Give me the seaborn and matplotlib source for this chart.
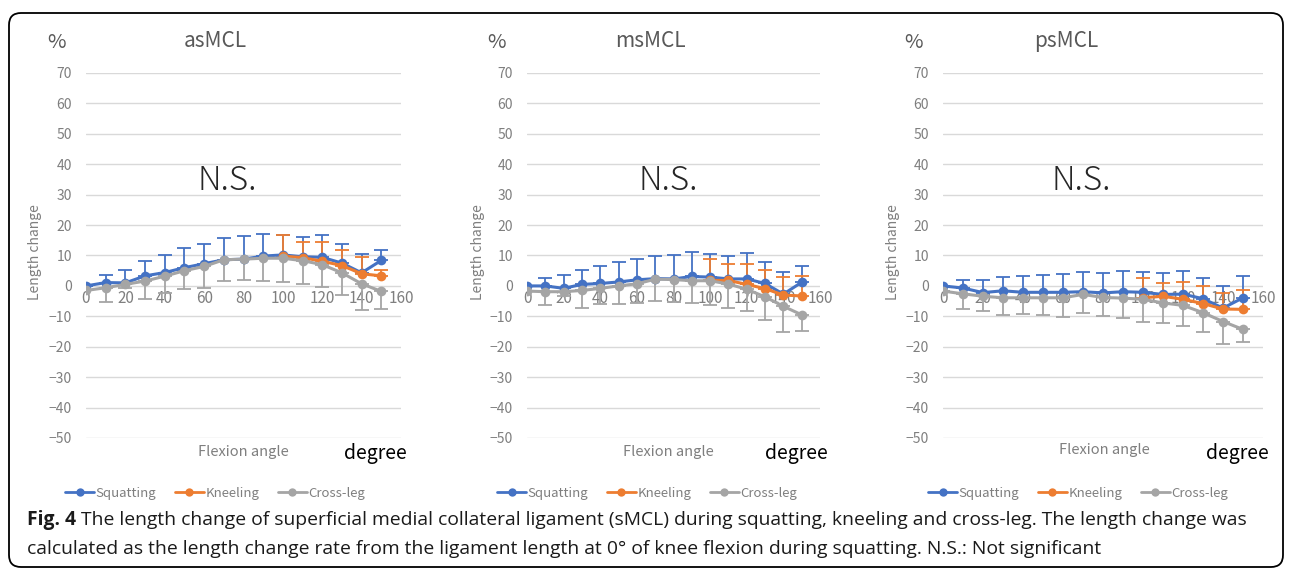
import numpy as np
import pandas as pd
import matplotlib
matplotlib.use("Agg")
import matplotlib.pyplot as plt
import seaborn as sns
from matplotlib.lines import Line2D
from matplotlib.patches import FancyBboxPatch

nan = np.nan
angles = [0, 10, 20, 30, 40, 50, 60, 70, 80, 90, 100, 110, 120, 130, 140, 150]
series = ["Squatting", "Kneeling", "Cross-leg"]
panels = ["asMCL", "msMCL", "psMCL"]
yticks = [-50, -40, -30, -20, -10, 0, 10, 20, 30, 40, 50, 60, 70]
xticks = [0, 20, 40, 60, 80, 100, 120, 140, 160]

as_squat = [0, 1.1, 1.0, 3.3, 4.4, 6.0, 7.3, 8.6, 8.8, 9.8, 10.2, 9.6, 9.4, 7.5, 4.3, 8.4]
as_squat_err = [0, 2.6, 4.2, 4.9, 5.7, 6.4, 6.4, 7.0, 7.5, 7.3, 6.7, 6.5, 7.5, 6.4, 6.3, 3.4]
as_kneel = [nan] * 10 + [9.8, 9.3, 8.1, 6.7, 4.0, 3.3]
as_kneel_err = [nan] * 10 + [6.8, 5.0, 6.2, 5.1, 5.4, 2.0]
as_cross = [-1.5, -0.6, 0.5, 1.6, 3.2, 5.0, 6.4, 8.6, 8.8, 9.1, 9.1, 8.3, 7.0, 4.3, 0.7, -1.8]
as_cross_err = [0, 4.6, 1.2, 6.0, 5.6, 6.0, 7.0, 7.0, 7.0, 7.5, 7.8, 7.6, 7.3, 7.3, 8.5, 5.7]

ms_squat = [0, 0, -0.8, 0.5, 0.8, 1.3, 2.0, 2.4, 2.3, 3.1, 2.9, 2.3, 2.3, 0.8, -2.7, 1.2]
ms_squat_err = [0, 2.6, 4.3, 4.7, 5.6, 6.7, 6.8, 7.5, 7.8, 8.0, 7.7, 7.6, 8.6, 7.0, 7.2, 5.5]
ms_kneel = [nan] * 10 + [1.8, 1.8, 0.5, -0.9, -3.0, -3.3]
ms_kneel_err = [nan] * 10 + [7.0, 5.5, 6.8, 6.1, 5.9, 6.6]
ms_cross = [-1.7, -1.9, -1.9, -1.5, -0.8, 0, 0.7, 2.2, 2.1, 1.7, 1.7, 0.6, -1.1, -3.6, -6.7, -9.5]
ms_cross_err = [0, 4.3, 1.5, 5.7, 5.0, 5.8, 6.3, 7.3, 7.4, 7.3, 7.9, 7.9, 7.1, 7.5, 8.4, 5.3]

ps_squat = [0, -0.7, -2.2, -1.6, -2.1, -2.1, -2.1, -1.9, -2.3, -1.9, -2.1, -2.8, -2.7, -4.2, -7.3, -3.9]
ps_squat_err = [0, 2.5, 4.0, 4.4, 5.2, 5.8, 6.0, 6.6, 6.7, 6.9, 6.8, 6.9, 7.7, 6.8, 7.2, 7.1]
ps_kneel = [nan] * 10 + [-3.9, -3.4, -4.4, -5.8, -7.6, -7.7]
ps_kneel_err = [nan] * 10 + [6.6, 4.5, 5.7, 5.9, 5.4, 6.3]
ps_cross = [-1.7, -2.6, -3.4, -3.9, -3.9, -3.9, -3.9, -2.8, -3.8, -4.0, -4.4, -5.6, -6.4, -8.8, -11.7, -14.3]
ps_cross_err = [0, 5.0, 5.0, 5.7, 5.3, 5.7, 6.4, 6.2, 6.2, 6.7, 7.3, 6.7, 6.7, 6.5, 7.3, 4.2]

caption_bold = "Fig. 4"
caption_1 = (" The length change of superficial medial collateral ligament (sMCL) during squatting, "
             "kneeling and cross-leg. The length change was")
caption_2 = ("calculated as the length change rate from the ligament length at 0\u00b0 of knee flexion "
             "during squatting. N.S.: Not significant")

colors = {"Squatting": "#4472C4", "Kneeling": "#ED7D31", "Cross-leg": "#A5A5A5"}
direction = {"Squatting": "up", "Kneeling": "up", "Cross-leg": "down"}

panel_data = {
    "asMCL": {"Squatting": (as_squat, as_squat_err), "Kneeling": (as_kneel, as_kneel_err),
              "Cross-leg": (as_cross, as_cross_err)},
    "msMCL": {"Squatting": (ms_squat, ms_squat_err), "Kneeling": (ms_kneel, ms_kneel_err),
              "Cross-leg": (ms_cross, ms_cross_err)},
    "psMCL": {"Squatting": (ps_squat, ps_squat_err), "Kneeling": (ps_kneel, ps_kneel_err),
              "Cross-leg": (ps_cross, ps_cross_err)},
}

sns.set_theme(style="white")
plt.rcParams["font.family"] = ["Noto Sans CJK JP", "DejaVu Sans"]

W, H = 1292, 571
fig = plt.figure(figsize=(W / 100, H / 100), dpi=100)
fig.patch.set_facecolor("white")


def fx(px):
    return px / W


def fy(py):
    return 1 - py / H


geom = [(86, 401), (527, 820), (943, 1263)]
top_px, bot_px = 73, 438

layout = [
    dict(pct=(56, 43), title=(215, 41), ns=(227, 181), ylab=(35, 252), xlab=(243, 452), deg=(375, 454), leg=(215, 493)),
    dict(pct=(497, 43), title=(650, 41), ns=(668, 181), ylab=(478, 252), xlab=(668, 452), deg=(796, 454), leg=(647, 493)),
    dict(pct=(914, 43), title=(1066, 41), ns=(1081, 181), ylab=(893, 252), xlab=(1104, 450), deg=(1237, 454), leg=(1078, 493)),
]

grey_txt = "#595959"
tick_txt = "#7F7F7F"

for name, (l, r), lay in zip(panels, geom, layout):
    ax = fig.add_axes([fx(l), fy(bot_px), (r - l) / W, (bot_px - top_px) / H])
    ax.set_facecolor("none")
    rows = []
    for s in series:
        vals, errs = panel_data[name][s]
        for a, v, e in zip(angles, vals, errs):
            rows.append({"angle": a, "value": v, "err": e, "series": s})
    df = pd.DataFrame(rows)
    sns.lineplot(data=df.dropna(), x="angle", y="value", hue="series", hue_order=series,
                 palette=colors, marker="o", markersize=7, markeredgewidth=0,
                 linewidth=2.2, errorbar=None, legend=False, ax=ax, zorder=3)
    for s in series:
        sub = df[df["series"] == s].dropna()
        zeros = np.zeros(len(sub))
        if direction[s] == "up":
            yerr = [zeros, sub["err"].values]
        else:
            yerr = [sub["err"].values, zeros]
        ax.errorbar(sub["angle"], sub["value"], yerr=yerr, fmt="none", ecolor=colors[s],
                    elinewidth=1.3, capsize=5, capthick=1.3, zorder=2)
    ax.set_xlim(0, 160)
    ax.set_ylim(-50, 70)
    ax.set_yticks(yticks)
    ax.set_xticks(xticks)
    ax.yaxis.grid(True, color="#D9D9D9", linewidth=1.0)
    ax.xaxis.grid(False)
    for sp in ["top", "right", "left"]:
        ax.spines[sp].set_visible(False)
    ax.spines["bottom"].set_position(("data", 0))
    ax.spines["bottom"].set_visible(False)
    ax.tick_params(axis="both", length=0, colors=tick_txt)
    ax.tick_params(axis="y", labelsize=10, pad=10)
    ax.tick_params(axis="x", labelsize=11, pad=3)
    ax.set_xlabel("")
    ax.set_ylabel("")

    fig.text(fx(lay["pct"][0]), fy(lay["pct"][1]), "%", ha="center", va="center", fontsize=14.5, color=grey_txt)
    fig.text(fx(lay["title"][0]), fy(lay["title"][1]), name, ha="center", va="center", fontsize=15,
             color=grey_txt)
    fig.text(fx(lay["ns"][0]), fy(lay["ns"][1]), "N.S.", ha="center", va="center", fontsize=24,
             fontweight="light", color="#262626")
    fig.text(fx(lay["ylab"][0]), fy(lay["ylab"][1]), "Length change", ha="center", va="center", rotation=90,
             fontsize=10, color=tick_txt)
    fig.text(fx(lay["xlab"][0]), fy(lay["xlab"][1]), "Flexion angle", ha="center", va="center", fontsize=10.5,
             color=tick_txt)
    fig.text(fx(lay["deg"][0]), fy(lay["deg"][1]), "degree", ha="center", va="center", fontsize=14, color="black")

    handles = [Line2D([0], [0], color=colors[s], marker="o", markersize=6, markeredgewidth=0, linewidth=2)
               for s in series]
    fig.legend(handles, series, loc="center", bbox_to_anchor=(fx(lay["leg"][0]), fy(lay["leg"][1])),
               ncol=3, frameon=False, fontsize=9.5, labelcolor=tick_txt, handlelength=2.2,
               handletextpad=0.1, columnspacing=1.4)

# caption, sized to span the same width as the reference
renderer = fig.canvas.get_renderer()
cap_font = ["Open Sans", "DejaVu Sans"]
size0 = 12.5
cap_x0, cap_x1 = 27, 1250
t_bold = fig.text(fx(cap_x0), fy(520), caption_bold, ha="left", va="center", fontsize=size0,
                  fontweight="bold", family=cap_font, color="#1a1a1a")
b0 = t_bold.get_window_extent(renderer=renderer)
t_1 = fig.text(b0.x1 / W, fy(520), caption_1, ha="left", va="center", fontsize=size0,
               family=cap_font, color="#1a1a1a")
b1 = t_1.get_window_extent(renderer=renderer)
size = size0 * (cap_x1 - cap_x0) / (b1.x1 - b0.x0)
t_bold.set_fontsize(size)
b0 = t_bold.get_window_extent(renderer=renderer)
t_1.set_fontsize(size)
t_1.set_x(b0.x1 / W)
fig.text(fx(cap_x0), fy(549), caption_2, ha="left", va="center", fontsize=size,
         family=cap_font, color="#1a1a1a")

box = FancyBboxPatch((9 / 100, (H - 567) / 100), (1283 - 9) / 100, (567 - 13) / 100,
                     boxstyle="round,pad=0,rounding_size=0.12", transform=fig.dpi_scale_trans,
                     facecolor="none", edgecolor="black", linewidth=1.3)
fig.patches.append(box)

fig.savefig("out.png", dpi=100)
